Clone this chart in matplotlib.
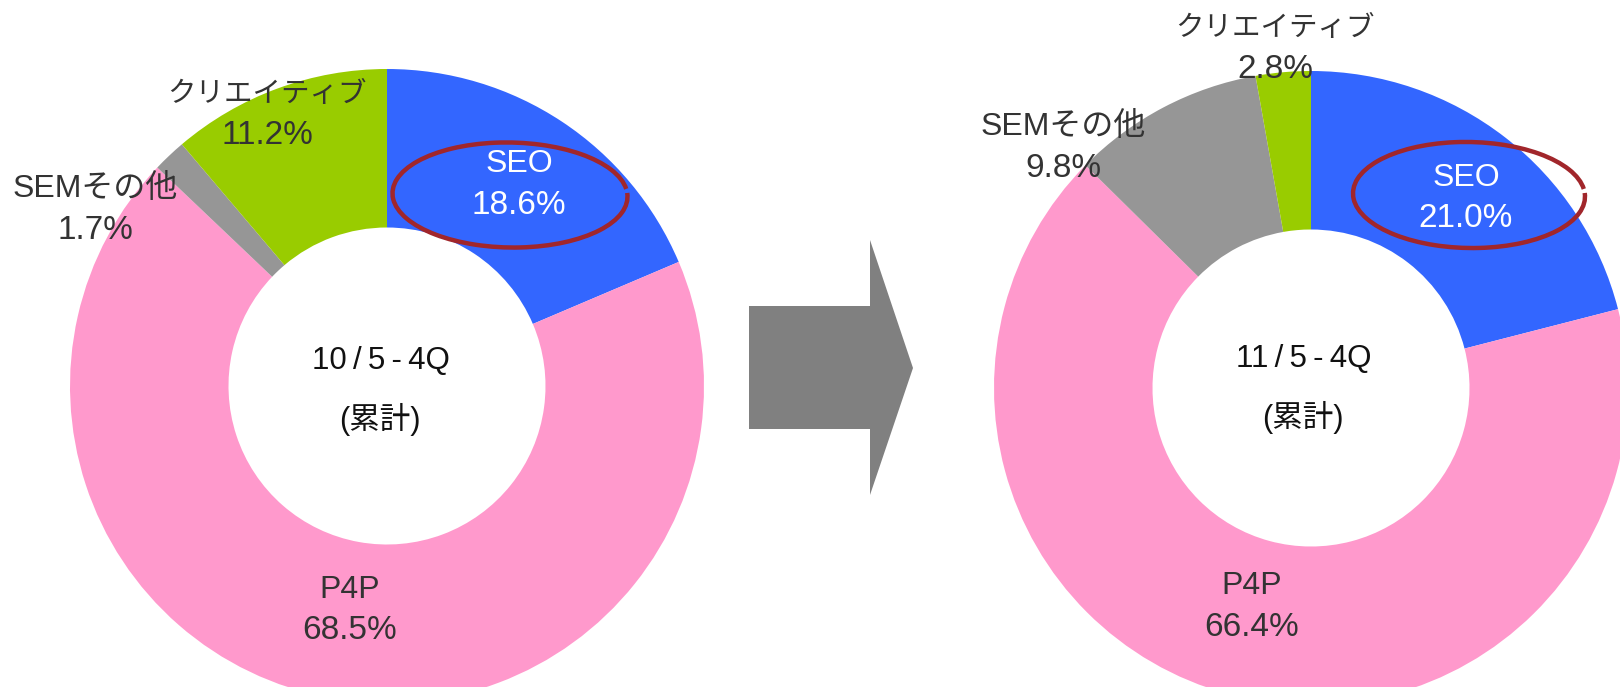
import matplotlib
matplotlib.use("Agg")
import matplotlib.pyplot as plt
from matplotlib.patches import Arc, Polygon, Rectangle

plt.rcParams["font.family"] = ["Liberation Sans", "Noto Sans CJK JP", "DejaVu Sans"]

# Data
categories = ["SEO", "P4P", "SEMその他", "クリエイティブ"]
share_10 = [18.6, 68.5, 1.7, 11.2]
share_11 = [21.0, 66.4, 9.8, 2.8]
period_labels = ["10/5-4Q", "11/5-4Q"]
sub_label = "(累計)"

colors = ["#3366ff", "#ff99cc", "#969696", "#99cc00"]
label_colors = ["white", "#333333", "#333333", "#333333"]
name_sizes = [23, 23, 23, 20.5]

W, H = 1620, 687
R = 317

# layout: donut centre and label centres, in image pixels (y down)
charts = [
    dict(values=share_10, period=period_labels[0], cx=387, cy=386,
         label_pos=[(519, 185), (350, 610), (95, 210), (267, 115)],
         center_pos=(381, 361), sub_pos=(380, 419),
         ring=(510, 195, 235, 105)),
    dict(values=share_11, period=period_labels[1], cx=1311, cy=388,
         label_pos=[(1466, 198), (1252, 607), (1063, 148), (1275, 49)],
         center_pos=(1304, 359), sub_pos=(1303, 417),
         ring=(1469, 195, 232, 106)),
]
LINE_GAP = 41


def fy(y):
    # image row -> data y
    return H - y


fig = plt.figure(figsize=(W / 100, H / 100), dpi=100)
ax = fig.add_axes([0, 0, 1, 1])

for c in charts:
    ax.pie(
        c["values"],
        colors=colors,
        startangle=90,
        counterclock=False,
        radius=R,
        center=(c["cx"], fy(c["cy"])),
        wedgeprops=dict(width=R * 0.5, edgecolor="none", linewidth=0),
    )
    for name, val, (x, y), tc, ns in zip(categories, c["values"], c["label_pos"],
                                         label_colors, name_sizes):
        ax.text(x, fy(y - LINE_GAP / 2), name, ha="center", va="center",
                fontsize=ns, color=tc)
        ax.text(x, fy(y + LINE_GAP / 2), f"{val:.1f}%", ha="center",
                va="center", fontsize=24, color=tc)
    x, y = c["center_pos"]
    period = c["period"].replace("/", "\u2009/\u2009").replace("-", "\u2009-\u2009")
    ax.text(x, fy(y), period, ha="center", va="center", fontsize=22.5, color="#111111")
    x, y = c["sub_pos"]
    ax.text(x, fy(y), sub_label, ha="center", va="center", fontsize=22, color="#111111")
    ex, ey, ew, eh = c["ring"]
    ax.add_patch(Arc((ex, fy(ey)), ew, eh, angle=-1, theta1=4, theta2=362,
                     edgecolor="#a1262b", linewidth=3.2))

# arrow between the two donuts
ax.add_patch(Rectangle((749, fy(429)), 122, 123, facecolor="#808080", edgecolor="none"))
ax.add_patch(Polygon([(870, fy(240)), (913, fy(368)), (870, fy(495))],
                     closed=True, facecolor="#808080", edgecolor="none"))

ax.set_xlim(0, W)
ax.set_ylim(0, H)
ax.set_aspect("equal")
ax.axis("off")

fig.savefig("out.png", dpi=100, facecolor="white")
